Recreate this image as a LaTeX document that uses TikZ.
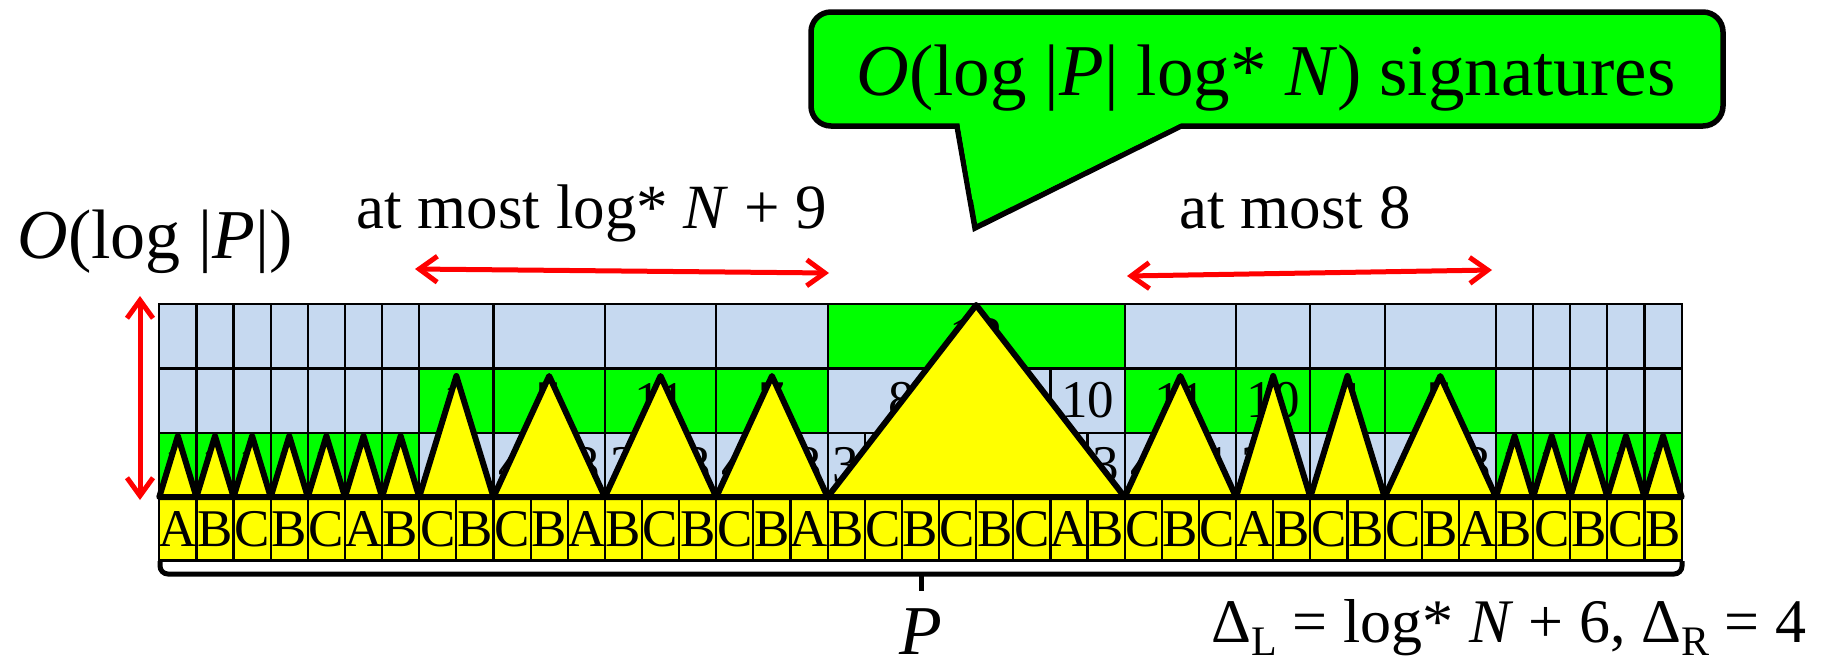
\documentclass[tikz,border=0pt]{standalone}
\usepackage{fontspec}
\setmainfont{Liberation Serif}
\usetikzlibrary{arrows.meta}
\definecolor{cellblue}{RGB}{198,217,240}
\definecolor{cellgreen}{RGB}{0,255,0}
\definecolor{cellyellow}{RGB}{255,255,0}
\definecolor{arrred}{RGB}{255,0,0}
\begin{document}
\begin{tikzpicture}[x=1pt,y=-1pt,
  gridcell/.style={draw=black, line width=2.2pt},
  tri/.style={draw=black, fill=cellyellow, line width=6pt, line join=round},
  celltext/.style={inner sep=0pt, font=\fontsize{53}{53}\selectfont},
  bigtext/.style={anchor=base, inner sep=0pt},
  redarrow/.style={draw=arrred, line width=5pt, {Straight Barb[length=18pt,width=26pt]}-{Straight Barb[length=18pt,width=26pt]}},
  bracket/.style={draw=black, line width=5pt, rounded corners=8pt}]
\fill[white] (0,0) rectangle (1825,670);
\useasboundingbox (0,0) rectangle (1825,670);

% level 3 row
\foreach \a/\b/\c in {0/1/cellblue,1/2/cellblue,2/3/cellblue,3/4/cellblue,4/5/cellblue,5/6/cellblue,6/7/cellblue,
  7/9/cellblue,9/12/cellblue,12/15/cellblue,15/18/cellblue,18/26/cellgreen,26/29/cellblue,29/31/cellblue,
  31/33/cellblue,33/36/cellblue,36/37/cellblue,37/38/cellblue,38/39/cellblue,39/40/cellblue,40/41/cellblue}
  \draw[gridcell, fill=\c] ({159.3+37.13*\a},304) rectangle ({159.3+37.13*\b},368.5);
% level 2 row
\foreach \a/\b/\c in {0/1/cellblue,1/2/cellblue,2/3/cellblue,3/4/cellblue,4/5/cellblue,5/6/cellblue,6/7/cellblue,
  7/9/cellgreen,9/12/cellgreen,12/15/cellgreen,15/18/cellgreen,18/22/cellblue,22/24/cellblue,24/26/cellblue,
  26/29/cellgreen,29/31/cellgreen,31/33/cellgreen,33/36/cellgreen,36/37/cellblue,37/38/cellblue,38/39/cellblue,
  39/40/cellblue,40/41/cellblue}
  \draw[gridcell, fill=\c] ({159.3+37.13*\a},368.5) rectangle ({159.3+37.13*\b},432.75);
% level 1 row
\foreach \i in {0,...,40}{
  \pgfmathsetmacro{\colnum}{(\i<7 || \i>35) ? 1 : 0}
  \ifdim\colnum pt>0.5pt
    \draw[gridcell, fill=cellgreen] ({159.3+37.13*\i},432.75) rectangle ({159.3+37.13*(\i+1)},497);
  \else
    \draw[gridcell, fill=cellblue] ({159.3+37.13*\i},432.75) rectangle ({159.3+37.13*(\i+1)},497);
  \fi
}
% numbers (mostly hidden by the triangles)
\node[celltext] (n3) at (976.2,336) {12};
\foreach \x/\t in {456.3/1,549.2/5,660.5/11,772/7,902/8,1087.6/10,1180.4/11,1273/10,1347.5/4,1440/5}
  \node[celltext] (n2-\t-\x) at (\x,400.6) {\t};
\foreach \i/\t in {0/1,1/1,2/1,3/1,4/1,5/1,6/1,7/4,9/4,11/3,12/2,14/3,15/4,17/3,18/3,25/3,26/4,28/1,29/2,31/4,35/3,36/1,37/1,38/1,39/1,40/1}
  \node[celltext] (n1-\i) at ({159.3+37.13*(\i+0.5)},465) {\t};

% letter row
\foreach \l [count=\i from 0] in {A,B,C,B,C,A,B,C,B,C,B,A,B,C,B,C,B,A,B,C,B,C,B,C,A,B,C,B,C,A,B,C,B,C,B,A,B,C,B,C,B}{
  \draw[gridcell, fill=cellyellow] ({159.3+37.13*\i},497) rectangle ({159.3+37.13*(\i+1)},560.5);
  \node[celltext] (L\i) at ({159.3+37.13*(\i+0.5)},529) {\l};
}

% triangles
\foreach \i in {0,1,2,3,4,5,6,36,37,38,39,40}
  \draw[tri] ({159.3+37.13*\i},497) -- ({159.3+37.13*(\i+0.5)},436) -- ({159.3+37.13*(\i+1)},497) -- cycle;
\foreach \a/\b in {7/9,9/12,12/15,15/18,26/29,29/31,31/33,33/36}
  \draw[tri] ({159.3+37.13*\a},497) -- ({159.3+18.565*(\a+\b)},376) -- ({159.3+37.13*\b},497) -- cycle;
\draw[tri] ({159.3+37.13*18},497) -- ({159.3+18.565*44},305) -- ({159.3+37.13*26},497) -- cycle;

% bracket under P
\coordinate (bl) at (160,561);
\coordinate (br) at (1682,561);
\coordinate (bt) at (921,574);
\coordinate (btip) at (921,591);
\draw[bracket] (bl) -- (160,574) -- (1682,574) -- (br);
\draw[draw=black, line width=5pt] (bt) -- (btip);
\node[bigtext, font=\fontsize{70}{70}\selectfont] (plabel) at (921,654) {\textit{P}};

% red arrows
\coordinate (va1) at (140,296);
\coordinate (va2) at (140,500);
\draw[redarrow] (va1) -- (va2);
\coordinate (la1) at (415,269);
\coordinate (la2) at (829,273);
\draw[redarrow] (la1) -- (la2);
\coordinate (ra1) at (1127,276);
\coordinate (ra2) at (1492,270);
\draw[redarrow] (ra1) -- (ra2);

% labels
\node[bigtext, font=\fontsize{70}{70}\selectfont] (ologp) at (155,258) {\textit{O}(log |\textit{P}|)};
\node[bigtext, font=\fontsize{63}{63}\selectfont] (leftlbl) at (592,228) {at most log* \textit{N} + 9};
\node[bigtext, font=\fontsize{63}{63}\selectfont] (rightlbl) at (1295,228) {at most 8};
\node[bigtext, font=\fontsize{62}{62}\selectfont] (deltas) at (1509,642)
  {Δ\raisebox{-0.22em}{\fontsize{42}{42}\selectfont L} = log* \textit{N} + 6, Δ\raisebox{-0.22em}{\fontsize{42}{42}\selectfont R} = 4};

% callout
\draw[line width=5.5pt, fill=cellgreen, rounded corners=20pt] (811,12) rectangle (1723,126);
\draw[line width=5.5pt, fill=cellgreen, line join=miter] (957,126) -- (975,228) -- (1181,126);
\fill[cellgreen] (959,120.5) -- (1186.5,120.5) -- (1026,199.5) -- (972.4,199.5) -- cycle;
\node[bigtext, font=\fontsize{73}{73}\selectfont] (callout) at (1266,95)
  {\textit{O}(log |\textit{P}| log* \textit{N}) signatures};
\end{tikzpicture}
\end{document}
